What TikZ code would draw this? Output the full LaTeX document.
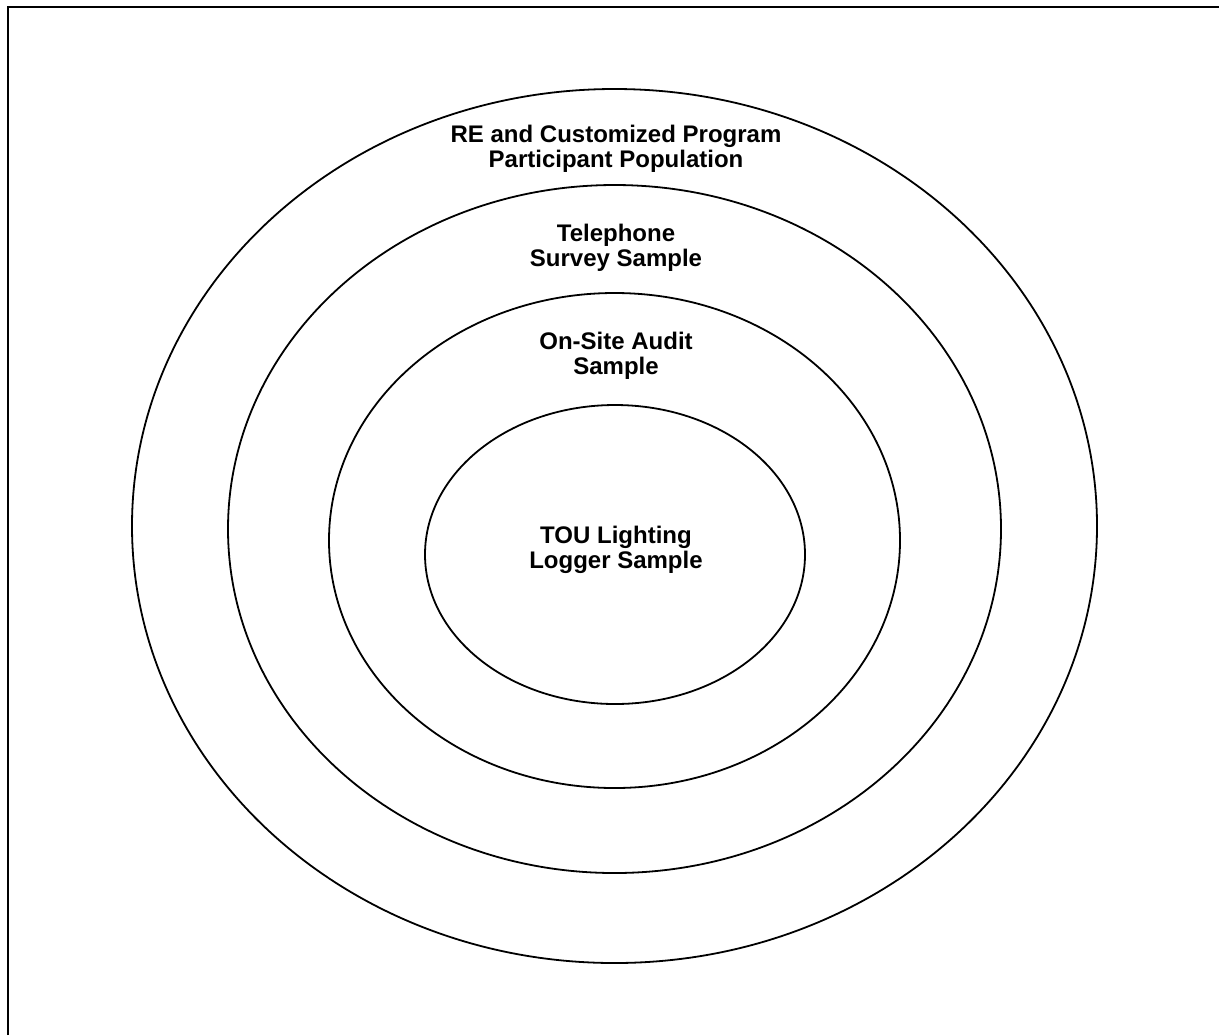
\documentclass[tikz,border=0pt]{standalone}
\usepackage{fontspec}
\setmainfont{Liberation Sans}
\usepackage{tikz}
\usetikzlibrary{shapes.geometric}

\begin{document}
\begin{tikzpicture}[
    x=0.5pt, y=-0.5pt,
    ring/.style={ellipse, draw=black, line width=0.9pt, inner sep=0pt},
    tag/.style={align=center, inner sep=0pt, font=\fontsize{12}{12.5}\selectfont\bfseries},
    frameline/.style={line width=1pt, black}
]
\useasboundingbox (0,0) rectangle (1219,1035);
% page frame, top and left edge only
\coordinate (frameBL) at (8,1035);
\coordinate (frameTL) at (8,7);
\coordinate (frameTR) at (1219,7);
\draw[frameline] (frameBL) -- (frameTL) -- (frameTR);

% nested samples
\node[ring, minimum width=482.5pt, minimum height=437pt] (population) at (614.5,526) {};
\node[ring, minimum width=386.5pt, minimum height=344pt] (telephone) at (614.5,529) {};
\node[ring, minimum width=285.5pt, minimum height=247.5pt] (onsite) at (614.5,540.5) {};
\node[ring, minimum width=190pt, minimum height=149.5pt] (logger) at (615,554.5) {};

% labels
\node[tag] (populationLabel) at (616,149) {RE and Customized Program\\Participant Population};
\node[tag] (telephoneLabel) at (616,248) {Telephone\\Survey Sample};
\node[tag] (onsiteLabel) at (616,356) {On-Site Audit\\Sample};
\node[tag] (loggerLabel) at (616,550) {TOU Lighting\\Logger Sample};
\end{tikzpicture}
\end{document}
